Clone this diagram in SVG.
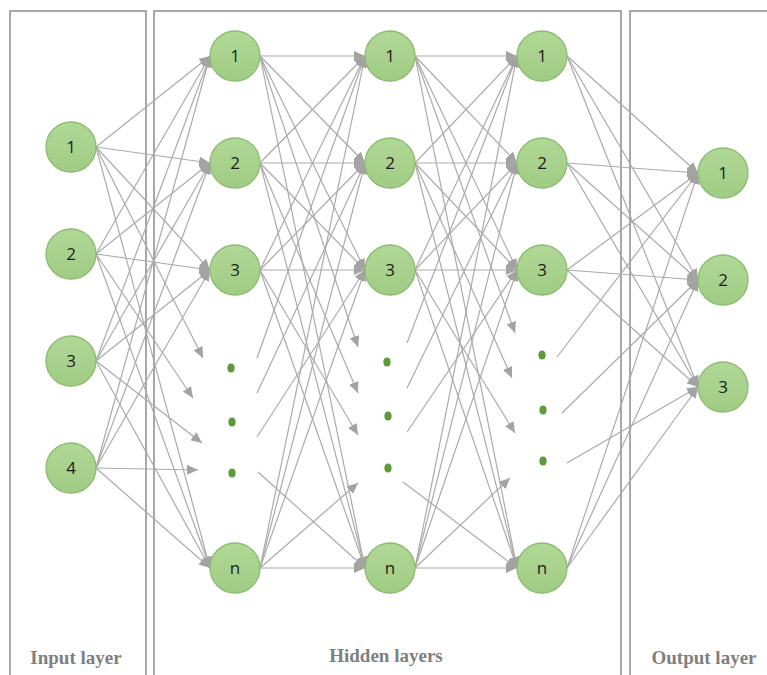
<svg xmlns="http://www.w3.org/2000/svg" width="767" height="675" viewBox="0 0 767 675">
<defs>
<marker id="ah" markerUnits="userSpaceOnUse" markerWidth="12" markerHeight="10" refX="11" refY="5" orient="auto" viewBox="0 0 12 10">
<path d="M0,0 L11,5 L0,10 z" fill="#a3a3a3"/>
</marker>
<linearGradient id="ng" x1="0" y1="0" x2="0" y2="1">
<stop offset="0" stop-color="#b0d896"/>
<stop offset="1" stop-color="#a0cc84"/>
</linearGradient>
<style>
.panel{fill:none;stroke:#8c8c8c;stroke-width:1.5}
.c line{stroke:#ababab;stroke-width:1.2;marker-end:url(#ah)}
.node circle{fill:url(#ng);stroke:#8dbb70;stroke-width:1.3}
.node text{font-family:"Open Sans","Liberation Sans",sans-serif;font-size:17px;fill:#1e1e1e;text-anchor:middle}
.dot{fill:#5e9a3c}
.lbl{font-family:"Liberation Serif",serif;font-weight:bold;font-size:19px;fill:#7f7f7f;text-anchor:middle}
</style>
</defs>
<rect width="767" height="675" fill="#ffffff"/>
<g id="panels">
<rect class="panel" x="10" y="11" width="136" height="700"/>
<rect class="panel" x="154" y="11" width="467" height="700"/>
<rect class="panel" x="630" y="11" width="150" height="700"/>
</g>
<g id="connectors" class="c">
<line x1="96" y1="147" x2="210" y2="56"/><line x1="96" y1="147" x2="210" y2="163"/><line x1="96" y1="147" x2="210" y2="270"/><line x1="96" y1="147" x2="210" y2="568"/><line x1="96" y1="147" x2="203" y2="358"/>
<line x1="96" y1="254" x2="210" y2="56"/><line x1="96" y1="254" x2="210" y2="163"/><line x1="96" y1="254" x2="210" y2="270"/><line x1="96" y1="254" x2="210" y2="568"/><line x1="96" y1="254" x2="193" y2="398"/>
<line x1="96" y1="361" x2="210" y2="56"/><line x1="96" y1="361" x2="210" y2="163"/><line x1="96" y1="361" x2="210" y2="270"/><line x1="96" y1="361" x2="210" y2="568"/><line x1="96" y1="361" x2="202" y2="443"/>
<line x1="96" y1="468" x2="210" y2="56"/><line x1="96" y1="468" x2="210" y2="163"/><line x1="96" y1="468" x2="210" y2="270"/><line x1="96" y1="468" x2="210" y2="568"/><line x1="96" y1="468" x2="198" y2="470"/>
<line x1="260" y1="56" x2="365" y2="56"/><line x1="260" y1="56" x2="365" y2="163"/><line x1="260" y1="56" x2="365" y2="270"/><line x1="260" y1="56" x2="365" y2="568"/><line x1="260" y1="56" x2="358" y2="347"/>
<line x1="260" y1="163" x2="365" y2="56"/><line x1="260" y1="163" x2="365" y2="163"/><line x1="260" y1="163" x2="365" y2="270"/><line x1="260" y1="163" x2="365" y2="568"/><line x1="260" y1="163" x2="358" y2="393"/>
<line x1="260" y1="270" x2="365" y2="56"/><line x1="260" y1="270" x2="365" y2="163"/><line x1="260" y1="270" x2="365" y2="270"/><line x1="260" y1="270" x2="365" y2="568"/><line x1="260" y1="270" x2="358" y2="435"/>
<line x1="260" y1="568" x2="365" y2="56"/><line x1="260" y1="568" x2="365" y2="163"/><line x1="260" y1="568" x2="365" y2="270"/><line x1="260" y1="568" x2="365" y2="568"/><line x1="260" y1="568" x2="358" y2="483"/>
<line x1="257" y1="358" x2="365" y2="56"/><line x1="257" y1="393" x2="365" y2="163"/><line x1="257" y1="437" x2="365" y2="270"/><line x1="258" y1="472" x2="365" y2="568"/>
<line x1="415" y1="56" x2="517" y2="56"/><line x1="415" y1="56" x2="517" y2="163"/><line x1="415" y1="56" x2="517" y2="270"/><line x1="415" y1="56" x2="517" y2="568"/><line x1="415" y1="56" x2="515" y2="333"/>
<line x1="415" y1="163" x2="517" y2="56"/><line x1="415" y1="163" x2="517" y2="163"/><line x1="415" y1="163" x2="517" y2="270"/><line x1="415" y1="163" x2="517" y2="568"/><line x1="415" y1="163" x2="512" y2="378"/>
<line x1="415" y1="270" x2="517" y2="56"/><line x1="415" y1="270" x2="517" y2="163"/><line x1="415" y1="270" x2="517" y2="270"/><line x1="415" y1="270" x2="517" y2="568"/><line x1="415" y1="270" x2="515" y2="433"/>
<line x1="415" y1="568" x2="517" y2="56"/><line x1="415" y1="568" x2="517" y2="163"/><line x1="415" y1="568" x2="517" y2="270"/><line x1="415" y1="568" x2="517" y2="568"/><line x1="415" y1="568" x2="510" y2="478"/>
<line x1="407" y1="343" x2="517" y2="56"/><line x1="407" y1="388" x2="517" y2="163"/><line x1="407" y1="432" x2="517" y2="270"/><line x1="403" y1="482" x2="517" y2="568"/>
<line x1="567" y1="56" x2="698" y2="173"/><line x1="567" y1="56" x2="698" y2="280"/><line x1="567" y1="56" x2="698" y2="387"/>
<line x1="567" y1="163" x2="698" y2="173"/><line x1="567" y1="163" x2="698" y2="280"/><line x1="567" y1="163" x2="698" y2="387"/>
<line x1="567" y1="270" x2="698" y2="173"/><line x1="567" y1="270" x2="698" y2="280"/><line x1="567" y1="270" x2="698" y2="387"/>
<line x1="567" y1="568" x2="698" y2="173"/><line x1="567" y1="568" x2="698" y2="280"/><line x1="567" y1="568" x2="698" y2="387"/>
<line x1="557" y1="357" x2="698" y2="173"/><line x1="562" y1="413" x2="698" y2="280"/><line x1="567" y1="463" x2="698" y2="387"/>
</g>
<g id="input-1" class="node"><circle cx="71" cy="147" r="25"/><text x="71" y="153">1</text></g>
<g id="input-2" class="node"><circle cx="71" cy="254" r="25"/><text x="71" y="260">2</text></g>
<g id="input-3" class="node"><circle cx="71" cy="361" r="25"/><text x="71" y="367">3</text></g>
<g id="input-4" class="node"><circle cx="71" cy="468" r="25"/><text x="71" y="474">4</text></g>
<g id="h1-1" class="node"><circle cx="235" cy="56" r="25"/><text x="235" y="62">1</text></g>
<g id="h1-2" class="node"><circle cx="235" cy="163" r="25"/><text x="235" y="169">2</text></g>
<g id="h1-3" class="node"><circle cx="235" cy="270" r="25"/><text x="235" y="276">3</text></g>
<g id="h1-dots"><ellipse class="dot" cx="231" cy="368" rx="3.6" ry="4.5"/><ellipse class="dot" cx="232" cy="422" rx="3.6" ry="4.5"/><ellipse class="dot" cx="232" cy="473" rx="3.6" ry="4.5"/></g>
<g id="h1-n" class="node"><circle cx="235" cy="568" r="25"/><text x="235" y="574">n</text></g>
<g id="h2-1" class="node"><circle cx="390" cy="56" r="25"/><text x="390" y="62">1</text></g>
<g id="h2-2" class="node"><circle cx="390" cy="163" r="25"/><text x="390" y="169">2</text></g>
<g id="h2-3" class="node"><circle cx="390" cy="270" r="25"/><text x="390" y="276">3</text></g>
<g id="h2-dots"><ellipse class="dot" cx="387" cy="362" rx="3.6" ry="4.5"/><ellipse class="dot" cx="388" cy="416" rx="3.6" ry="4.5"/><ellipse class="dot" cx="388" cy="468" rx="3.6" ry="4.5"/></g>
<g id="h2-n" class="node"><circle cx="390" cy="568" r="25"/><text x="390" y="574">n</text></g>
<g id="h3-1" class="node"><circle cx="542" cy="56" r="25"/><text x="542" y="62">1</text></g>
<g id="h3-2" class="node"><circle cx="542" cy="163" r="25"/><text x="542" y="169">2</text></g>
<g id="h3-3" class="node"><circle cx="542" cy="270" r="25"/><text x="542" y="276">3</text></g>
<g id="h3-dots"><ellipse class="dot" cx="542" cy="355" rx="3.6" ry="4.5"/><ellipse class="dot" cx="543" cy="410" rx="3.6" ry="4.5"/><ellipse class="dot" cx="543" cy="461" rx="3.6" ry="4.5"/></g>
<g id="h3-n" class="node"><circle cx="542" cy="568" r="25"/><text x="542" y="574">n</text></g>
<g id="out-1" class="node"><circle cx="723" cy="173" r="25"/><text x="723" y="179">1</text></g>
<g id="out-2" class="node"><circle cx="723" cy="280" r="25"/><text x="723" y="286">2</text></g>
<g id="out-3" class="node"><circle cx="723" cy="387" r="25"/><text x="723" y="393">3</text></g>
<g id="labels">
<text class="lbl" x="76" y="664">Input layer</text>
<text class="lbl" x="386" y="662">Hidden layers</text>
<text class="lbl" x="704" y="664">Output layer</text>
</g>
</svg>
